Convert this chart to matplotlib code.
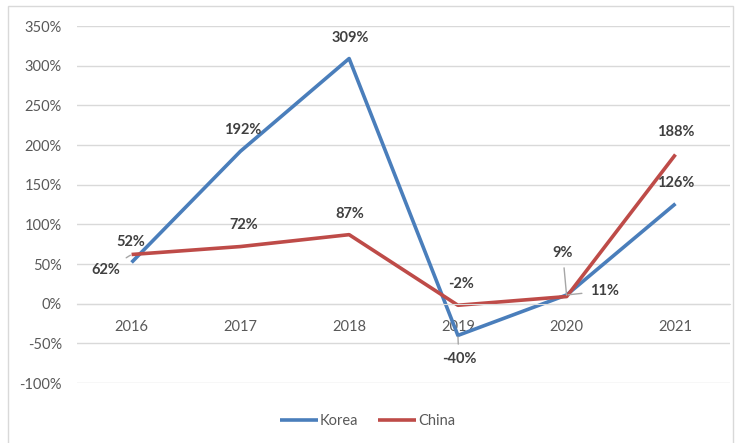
import matplotlib
matplotlib.use("Agg")
import matplotlib.pyplot as plt
from matplotlib.patches import Rectangle
from matplotlib.ticker import FuncFormatter

years = ["2016", "2017", "2018", "2019", "2020", "2021"]
korea = [52, 192, 309, -40, 11, 126]
china = [62, 72, 87, -2, 9, 188]

# label offsets in pixels (dx, dy) and whether a leader line is drawn
korea_offsets = [(-1, 20), (2, 21), (1, 21), (1, -24), (38, 4), (0, 21)]
korea_leader = [False, False, False, True, True, False]
china_offsets = [(-26, -16), (3, 22), (1, 21), (3, 21), (-4, 44), (0, 23)]
china_leader = [True, False, False, False, True, False]

blue = "#4A7EBB"
red = "#BE4B48"
grid_c = "#D9D9D9"
txt_c = "#595959"
lbl_c = "#404040"

plt.rcParams["font.family"] = ["Lato", "DejaVu Sans"]

fig = plt.figure(figsize=(7.35, 4.43), dpi=100)
ax = fig.add_axes([0.105, 0.1354, 0.888, 0.8059])

x = list(range(len(years)))
ax.plot(x, korea, color=blue, lw=2.6, label="Korea", solid_capstyle="butt")
ax.plot(x, china, color=red, lw=2.6, label="China", solid_capstyle="butt")

ax.set_xlim(-0.5, len(years) - 0.5)
ax.set_ylim(-100, 350)
ax.set_yticks(range(-100, 351, 50))
ax.yaxis.set_major_formatter(FuncFormatter(lambda v, p: f"{int(v)}%"))
ax.set_xticks(x)
ax.set_xticklabels(years)
ax.grid(axis="y", color=grid_c, lw=1)
ax.set_axisbelow(True)
for s in ["top", "right", "left"]:
    ax.spines[s].set_visible(False)
ax.spines["bottom"].set_position(("data", 0))
ax.spines["bottom"].set_color(grid_c)
ax.tick_params(axis="both", length=0, labelsize=10.5, colors=txt_c)
ax.tick_params(axis="x", pad=12)
ax.tick_params(axis="y", pad=11)


def add_labels(vals, offsets, leaders):
    for i, (v, off, lead) in enumerate(zip(vals, offsets, leaders)):
        props = None
        if lead:
            props = dict(arrowstyle="-", color="#A6A6A6", lw=1, shrinkA=4, shrinkB=1)
        ax.annotate(f"{v}%", (i, v), xytext=off, textcoords="offset pixels",
                    ha="center", va="center", fontsize=10.5, fontweight="bold",
                    color=lbl_c, arrowprops=props)


add_labels(korea, korea_offsets, korea_leader)
add_labels(china, china_offsets, china_leader)

fig.legend(loc="lower center", bbox_to_anchor=(0.5, 0.005), ncol=2, frameon=False,
           fontsize=10.5, labelcolor=txt_c, handlelength=2.6, handletextpad=0.1,
           columnspacing=1.4)

fig.patches.append(Rectangle((0.011, -0.01), 0.986, 0.996, transform=fig.transFigure,
                             fill=False, edgecolor=grid_c, lw=1))

fig.savefig("out.png", dpi=100)
